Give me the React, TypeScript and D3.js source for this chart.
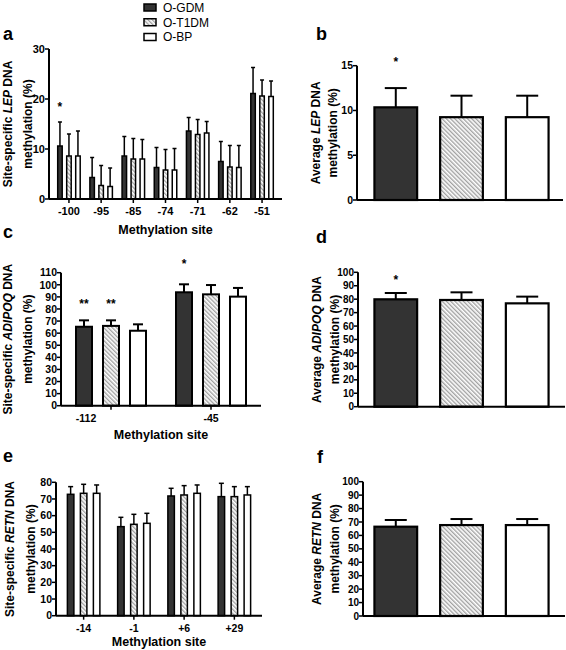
import React from "react";
import * as d3 from "d3";

const FONT = "'Liberation Sans', Arial, Helvetica, sans-serif";

const groups = ["O-GDM", "O-T1DM", "O-BP"];
const fills = ["#333333", "url(#hatch)", "#ffffff"];

// Panel a: site-specific LEP
const lepSites = ["-100", "-95", "-85", "-74", "-71", "-62", "-51"];
const lepGDM = [10.6, 4.3, 8.6, 6.3, 13.6, 7.5, 21.1];
const lepGDMsd = [4.8, 4.0, 3.9, 4.0, 2.7, 4.0, 5.2];
const lepT1DM = [8.6, 2.7, 8.0, 5.8, 12.9, 6.4, 20.6];
const lepT1DMsd = [4.4, 4.0, 4.1, 4.1, 3.0, 4.3, 3.2];
const lepBP = [8.6, 2.5, 8.0, 5.8, 13.2, 6.3, 20.5];
const lepBPsd = [5.0, 3.7, 3.9, 4.3, 2.3, 4.4, 3.1];
const lepTicks = [0, 10, 20, 30];

// Panel b: average LEP
const lepAvg = [10.35, 9.25, 9.25];
const lepAvgSd = [2.15, 2.4, 2.4];
const lepAvgTicks = [0, 5, 10, 15];

// Panel c: site-specific ADIPOQ
const adipoqSites = ["-112", "-45"];
const adipoqGDM = [65.3, 93.8];
const adipoqGDMsd = [5.3, 6.6];
const adipoqT1DM = [66.0, 92.1];
const adipoqT1DMsd = [4.6, 7.7];
const adipoqBP = [62.0, 90.2];
const adipoqBPsd = [5.3, 7.2];
const adipoqTicks = [0, 10, 20, 30, 40, 50, 60, 70, 80, 90, 100, 110];

// Panel d: average ADIPOQ
const adipoqAvg = [79.9, 79.4, 76.9];
const adipoqAvgSd = [4.7, 5.7, 5.0];
const pctTicks = [0, 10, 20, 30, 40, 50, 60, 70, 80, 90, 100];

// Panel e: site-specific RETN
const retnSites = ["-14", "-1", "+6", "+29"];
const retnGDM = [72.8, 53.4, 71.8, 71.4];
const retnGDMsd = [4.6, 5.6, 4.6, 8.0];
const retnT1DM = [73.4, 54.8, 72.4, 71.4];
const retnT1DMsd = [5.4, 6.0, 5.6, 6.0];
const retnBP = [73.4, 55.4, 73.4, 72.4];
const retnBPsd = [5.0, 6.0, 5.0, 5.0];
const retnTicks = [0, 10, 20, 30, 40, 50, 60, 70, 80];

// Panel f: average RETN
const retnAvg = [66.5, 67.7, 67.7];
const retnAvgSd = [5.0, 4.5, 4.5];

type Star = { site: number; group: number; text: string; above: number };

type LabelParts = { pre: string; gene: string };

function YLabel({ x1, x2, cy, parts }: { x1: number; x2: number; cy: number; parts: LabelParts }) {
  return (
    <g fontFamily={FONT} fontWeight="bold" fontSize={12} textAnchor="middle">
      <text transform={`translate(${x1},${cy}) rotate(-90)`}>
        {parts.pre}
        <tspan fontStyle="italic">{parts.gene}</tspan>
        {" DNA"}
      </text>
      <text transform={`translate(${x2},${cy}) rotate(-90)`}>methylation (%)</text>
    </g>
  );
}

function YAxis({ x, y, ticks, fontSize }: { x: number; y: d3.ScaleLinear<number, number>; ticks: number[]; fontSize: number }) {
  const dom = y.domain();
  return (
    <g>
      <line x1={x} x2={x} y1={y(dom[0])} y2={y(dom[1])} stroke="#000" strokeWidth={2} />
      {ticks.map((t) => (
        <g key={t}>
          <line x1={x - 4} x2={x} y1={y(t)} y2={y(t)} stroke="#000" strokeWidth={1.5} />
          <text x={x - 4} y={y(t)} dy="0.36em" textAnchor="end" fontFamily={FONT} fontWeight="bold" fontSize={fontSize}>
            {t}
          </text>
        </g>
      ))}
    </g>
  );
}

function GroupedPanel(props: {
  sites: string[];
  means: number[][];
  sds: number[][];
  xRange: [number, number];
  outerPad: number;
  yMax: number;
  yPx: [number, number];
  ticks: number[];
  pitch: number;
  bw: number;
  sw: number;
  cap: number;
  tickFont: number;
  letter: string;
  letterPos: [number, number];
  labelX: [number, number];
  parts: LabelParts;
  xTitleDy: number;
  labelDx?: number[];
  stars: Star[];
}) {
  const { sites, means, sds, xRange, yMax, yPx, pitch, bw, sw, cap } = props;
  const x = d3.scalePoint<string>().domain(sites).range(xRange).padding(props.outerPad);
  const inner = d3
    .scaleBand<string>()
    .domain(groups)
    .range([-1.5 * pitch, 1.5 * pitch])
    .paddingInner(1 - bw / pitch)
    .paddingOuter((1 - bw / pitch) / 2);
  const y = d3.scaleLinear().domain([0, yMax]).range(yPx);
  const cy = (yPx[0] + yPx[1]) / 2;
  return (
    <g>
      <text x={props.letterPos[0]} y={props.letterPos[1]} fontFamily={FONT} fontWeight="bold" fontSize={18}>
        {props.letter}
      </text>
      <YLabel x1={props.labelX[0]} x2={props.labelX[1]} cy={cy} parts={props.parts} />
      {sites.map((s, i) => (
        <g key={s}>
          {groups.map((g, gi) => {
            const bx = (x(s) as number) + (inner(g) as number);
            const cx = bx + inner.bandwidth() / 2;
            const m = means[gi][i];
            const e = m + sds[gi][i];
            return (
              <g key={g}>
                <line x1={cx} x2={cx} y1={y(m)} y2={y(e)} stroke="#000" strokeWidth={sw} />
                <line x1={cx - cap / 2} x2={cx + cap / 2} y1={y(e)} y2={y(e)} stroke="#000" strokeWidth={sw} />
                <rect x={bx} y={y(m)} width={inner.bandwidth()} height={y(0) - y(m)} fill={fills[gi]} stroke="#000" strokeWidth={sw} />
              </g>
            );
          })}
        </g>
      ))}
      {props.stars.map((st, k) => {
        const s = sites[st.site];
        const g = groups[st.group];
        const cx = (x(s) as number) + (inner(g) as number) + inner.bandwidth() / 2;
        const e = means[st.group][st.site] + sds[st.group][st.site];
        return (
          <text key={k} x={cx} y={y(e) - st.above} textAnchor="middle" fontFamily={FONT} fontWeight="bold" fontSize={12}>
            {st.text}
          </text>
        );
      })}
      <YAxis x={xRange[0]} y={y} ticks={props.ticks} fontSize={props.tickFont} />
      <line x1={xRange[0]} x2={xRange[1]} y1={y(0)} y2={y(0)} stroke="#000" strokeWidth={2} />
      {sites.map((s, i) => (
        <g key={s}>
          <line x1={x(s)} x2={x(s)} y1={y(0)} y2={y(0) + 4} stroke="#000" strokeWidth={1.5} />
          <text
            x={(x(s) as number) + (props.labelDx ? props.labelDx[i] : 0)}
            y={y(0) + 16}
            textAnchor="middle"
            fontFamily={FONT}
            fontWeight="bold"
            fontSize={props.tickFont}
          >
            {s}
          </text>
        </g>
      ))}
      <text x={(xRange[0] + xRange[1]) / 2} y={y(0) + props.xTitleDy} textAnchor="middle" fontFamily={FONT} fontWeight="bold" fontSize={12.5}>
        Methylation site
      </text>
    </g>
  );
}

function AveragePanel(props: {
  means: number[];
  sds: number[];
  axisX: number;
  xEnd: number;
  yMax: number;
  yPx: [number, number];
  ticks: number[];
  tickFont: number;
  letter: string;
  letterPos: [number, number];
  labelX: [number, number];
  parts: LabelParts;
  stars: Star[];
}) {
  const { means, sds, yMax, yPx } = props;
  const x = d3.scaleBand<string>().domain(groups).range([358, 565]).paddingInner(0.35).paddingOuter(0.25);
  const y = d3.scaleLinear().domain([0, yMax]).range(yPx);
  const cy = (yPx[0] + yPx[1]) / 2;
  const cap = 22;
  return (
    <g>
      <text x={props.letterPos[0]} y={props.letterPos[1]} fontFamily={FONT} fontWeight="bold" fontSize={18}>
        {props.letter}
      </text>
      <YLabel x1={props.labelX[0]} x2={props.labelX[1]} cy={cy} parts={props.parts} />
      {groups.map((g, gi) => {
        const bx = x(g) as number;
        const cx = bx + x.bandwidth() / 2;
        const m = means[gi];
        const e = m + sds[gi];
        return (
          <g key={g}>
            <line x1={cx} x2={cx} y1={y(m)} y2={y(e)} stroke="#000" strokeWidth={2} />
            <line x1={cx - cap / 2} x2={cx + cap / 2} y1={y(e)} y2={y(e)} stroke="#000" strokeWidth={2} />
            <rect x={bx} y={y(m)} width={x.bandwidth()} height={y(0) - y(m)} fill={fills[gi]} stroke="#000" strokeWidth={2.2} />
          </g>
        );
      })}
      {props.stars.map((st, k) => {
        const g = groups[st.group];
        const cx = (x(g) as number) + x.bandwidth() / 2;
        const e = means[st.group] + sds[st.group];
        return (
          <text key={k} x={cx} y={y(e) - st.above} textAnchor="middle" fontFamily={FONT} fontWeight="bold" fontSize={12}>
            {st.text}
          </text>
        );
      })}
      <YAxis x={props.axisX} y={y} ticks={props.ticks} fontSize={props.tickFont} />
      <line x1={props.axisX} x2={props.xEnd} y1={y(0)} y2={y(0)} stroke="#000" strokeWidth={2} />
    </g>
  );
}

function Legend() {
  const rowY = d3.scalePoint<string>().domain(groups).range([7.5, 37]);
  return (
    <g>
      {groups.map((g, i) => (
        <g key={g}>
          <rect x={144} y={(rowY(g) as number) - 3.5} width={12} height={7} fill={fills[i]} stroke="#000" strokeWidth={1.5} />
          <text x={163} y={(rowY(g) as number)} dy="0.36em" fontFamily={FONT} fontSize={12}>
            {g}
          </text>
        </g>
      ))}
    </g>
  );
}

export default function App() {
  return (
    <svg width={566} height={650} style={{ position: "absolute", left: 0, top: 0, background: "#fff" }}>
      <defs>
        <pattern id="hatch" patternUnits="userSpaceOnUse" width={3} height={3} patternTransform="rotate(-45)">
          <rect width={3} height={3} fill="#fff" />
          <line x1={0.75} y1={0} x2={0.75} y2={3} stroke="#8a8a8a" strokeWidth={1.1} />
        </pattern>
      </defs>
      <rect width={566} height={650} fill="#fff" />
      <Legend />
      <GroupedPanel
        sites={lepSites}
        means={[lepGDM, lepT1DM, lepBP]}
        sds={[lepGDMsd, lepT1DMsd, lepBPsd]}
        xRange={[49, 282]}
        outerPad={0.62}
        yMax={30}
        yPx={[199, 49]}
        ticks={lepTicks}
        pitch={9}
        bw={4.5}
        sw={1.5}
        cap={4}
        tickFont={11}
        letter="a"
        letterPos={[3, 40]}
        labelX={[12, 32]}
        parts={{ pre: "Site-specific ", gene: "LEP" }}
        xTitleDy={35}
        stars={[{ site: 0, group: 0, text: "*", above: 11 }]}
      />
      <AveragePanel
        means={lepAvg}
        sds={lepAvgSd}
        axisX={357}
        xEnd={563}
        yMax={15}
        yPx={[200, 65.7]}
        ticks={lepAvgTicks}
        tickFont={10.5}
        letter="b"
        letterPos={[316, 40]}
        labelX={[320, 337]}
        parts={{ pre: "Average ", gene: "LEP" }}
        stars={[{ site: 0, group: 0, text: "*", above: 22 }]}
      />
      <GroupedPanel
        sites={adipoqSites}
        means={[adipoqGDM, adipoqT1DM, adipoqBP]}
        sds={[adipoqGDMsd, adipoqT1DMsd, adipoqBPsd]}
        xRange={[61, 261]}
        outerPad={0.5}
        yMax={110}
        yPx={[405.7, 272.7]}
        ticks={adipoqTicks}
        pitch={27}
        bw={16}
        sw={2}
        cap={10}
        tickFont={10.5}
        letter="c"
        letterPos={[3, 238]}
        labelX={[12, 32]}
        parts={{ pre: "Site-specific ", gene: "ADIPOQ" }}
        xTitleDy={33}
        labelDx={[-25, 0]}
        stars={[
          { site: 0, group: 0, text: "**", above: 12 },
          { site: 0, group: 1, text: "**", above: 12 },
          { site: 1, group: 0, text: "*", above: 16 },
        ]}
      />
      <AveragePanel
        means={adipoqAvg}
        sds={adipoqAvgSd}
        axisX={358}
        xEnd={565}
        yMax={100}
        yPx={[406.7, 272.3]}
        ticks={pctTicks}
        tickFont={10}
        letter="d"
        letterPos={[316, 243]}
        labelX={[321, 339]}
        parts={{ pre: "Average ", gene: "ADIPOQ" }}
        stars={[{ site: 0, group: 0, text: "*", above: 9 }]}
      />
      <GroupedPanel
        sites={retnSites}
        means={[retnGDM, retnT1DM, retnBP]}
        sds={[retnGDMsd, retnT1DMsd, retnBPsd]}
        xRange={[56, 262]}
        outerPad={0.55}
        yMax={80}
        yPx={[615.7, 482.3]}
        ticks={retnTicks}
        pitch={13}
        bw={6.5}
        sw={1.5}
        cap={5}
        tickFont={10.5}
        letter="e"
        letterPos={[3, 462]}
        labelX={[14, 35]}
        parts={{ pre: "Site-specific ", gene: "RETN" }}
        xTitleDy={30}
        stars={[]}
      />
      <AveragePanel
        means={retnAvg}
        sds={retnAvgSd}
        axisX={363}
        xEnd={565}
        yMax={100}
        yPx={[616, 481.7]}
        ticks={pctTicks}
        tickFont={10}
        letter="f"
        letterPos={[317, 463]}
        labelX={[321, 339]}
        parts={{ pre: "Average ", gene: "RETN" }}
        stars={[]}
      />
    </svg>
  );
}
